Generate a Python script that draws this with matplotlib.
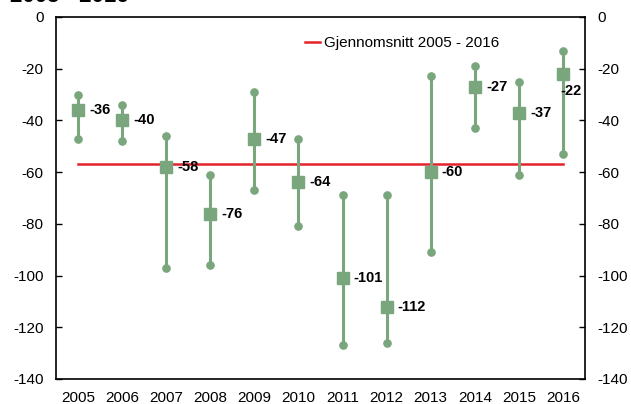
import matplotlib.pyplot as plt
import numpy as np

plt.rcParams['font.family'] = ['Liberation Sans', 'DejaVu Sans']
plt.rcParams['axes.unicode_minus'] = False

years = ['2005', '2006', '2007', '2008', '2009', '2010',
         '2011', '2012', '2013', '2014', '2015', '2016']
means = [-36, -40, -58, -76, -47, -64, -101, -112, -60, -27, -37, -22]
highs = [-30, -34, -46, -61, -29, -47, -69, -69, -23, -19, -25, -13]
lows = [-47, -48, -97, -96, -67, -81, -127, -126, -91, -43, -61, -53]
avg_label = 'Gjennomsnitt 2005 - 2016'

green = '#79a67c'
red = '#e3222b'

fig = plt.figure(figsize=(6.31, 4.04), dpi=100)
ax = fig.add_axes([56 / 631, 25 / 404, 529 / 631, 362 / 404])
x = np.arange(len(years))

# whiskers from low to high, dots at both ends
ax.vlines(x, lows, highs, color=green, lw=2.2, zorder=2)
ax.plot(x, highs, 'o', color=green, ms=5.2, zorder=3)
ax.plot(x, lows, 'o', color=green, ms=5.2, zorder=3)
ax.plot(x, means, 's', color=green, ms=8.6, zorder=4)

avg = np.mean(means)
ax.plot([x[0], x[-1]], [avg, avg], color=red, lw=1.8, zorder=1, label=avg_label)

for i, m in enumerate(means):
    if i == len(means) - 1:
        ax.annotate(str(m), (x[i], m), xytext=(-1.5, -12), textcoords='offset points',
                    ha='left', va='center', fontsize=10.5, fontweight='bold', zorder=5)
    else:
        ax.annotate(str(m), (x[i], m), xytext=(8, 0), textcoords='offset points',
                    ha='left', va='center', fontsize=10.5, fontweight='bold', zorder=5)

ax.set_xlim(-0.5, len(years) - 0.5)
ax.set_ylim(-140, 0)
ax.set_yticks(range(-140, 1, 20))
ax.set_xticks(x)
ax.set_xticklabels(years)
ax.tick_params(axis='x', length=0, labelsize=11, pad=9)
ax.tick_params(axis='y', direction='in', length=4, width=1, labelsize=11, pad=9,
               right=True, labelright=True)
for s in ax.spines.values():
    s.set_linewidth(1.2)

ax.legend(loc='upper left', bbox_to_anchor=(0.445, 0.985), frameon=False,
          fontsize=11, handlelength=1.0, handletextpad=0.25)

# title cut off at the top of the image, as in the original
fig.text(10 / 631, 1 - 2.5 / 404, '2005 - 2016', fontsize=16, fontweight='bold',
         ha='left', va='baseline')

fig.savefig('out.png', dpi=100)
